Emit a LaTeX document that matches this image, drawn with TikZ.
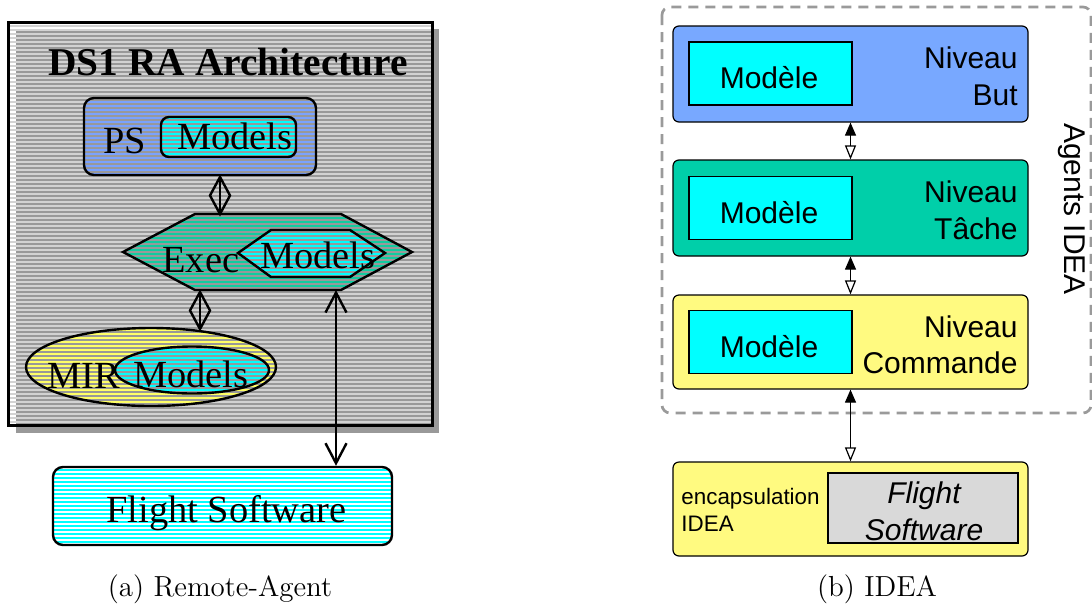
\documentclass[tikz,border=0pt]{standalone}
\usepackage{fontspec}
\newfontfamily\timesf{Liberation Serif}
\newfontfamily\helvf{Liberation Sans}
\usetikzlibrary{arrows.meta,patterns.meta,shapes.geometric}
\definecolor{bggray}{HTML}{999999}
\definecolor{lgray}{HTML}{D2D2D2}
\definecolor{sblue}{HTML}{7AA2FF}
\definecolor{steal}{HTML}{10CCA0}
\definecolor{scyan}{HTML}{00FFFF}
\definecolor{syellow}{HTML}{FFFF66}
\definecolor{butblue}{HTML}{78A8FF}
\definecolor{tacheteal}{HTML}{00CFA9}
\definecolor{cmdyellow}{HTML}{FFFA80}
\definecolor{fsgray}{HTML}{D9D9D9}
\definecolor{dashgray}{HTML}{9A9A9A}
\begin{document}
\begin{tikzpicture}[x=0.5pt,y=-0.5pt,
  striped/.style 2 args={preaction={fill=#1},pattern={Lines[distance=2pt,line width=0.7pt]},pattern color=#2},
  shapeline/.style={draw=black,line width=1.2pt},
  ltxt/.style={font=\timesf\fontsize{19.2}{22}\selectfont,inner sep=0,anchor=base west},
  ttxt/.style={font=\timesf\bfseries\fontsize{19.7}{23}\selectfont,inner sep=0,anchor=base west},
  rtxt/.style={font=\helvf\fontsize{15}{18}\selectfont,inner sep=0},
  stxt/.style={font=\helvf\fontsize{11.2}{13}\selectfont,inner sep=0,anchor=base west},
  captxt/.style={font=\fontsize{14.5}{17}\selectfont,inner sep=0,anchor=base},
  conn/.style={line width=1.2pt},
  diam/.style={diamond,draw,line width=1.2pt,minimum width=10.5pt,minimum height=19pt,inner sep=0},
  biarrow/.style={line width=1.2pt,{Straight Barb[length=10pt,width=10.5pt]}-{Straight Barb[length=10pt,width=10.5pt]}},
  level/.style={draw,line width=0.6pt,rounded corners=3pt,minimum width=177.5pt,minimum height=48pt,inner sep=0,fill=#1},
  modele/.style={draw,line width=0.6pt,fill=scyan,minimum width=81.5pt,minimum height=31.5pt,inner sep=0},
  rarr/.style={line width=0.6pt,{Triangle[length=6.5pt,width=5.5pt]}-{Triangle[open,fill=white,length=7pt,width=5.5pt]}}]
\useasboundingbox (0,0) rectangle (1092,606);
% ---------- (a) Remote-Agent ----------
\fill[bggray] (16,29) rectangle (439,433);
\draw[line width=1.5pt,pattern={Lines[distance=2pt,line width=0.6pt]},pattern color=lgray] (8,22) rectangle (432,425);
\node[ttxt] (title) at (48,75) {DS1 RA Architecture};
% PS
\node[shapeline,rounded corners=5pt,minimum width=116pt,minimum height=38.5pt,striped={bggray}{sblue}] (ps) at (200,136.5) {};
\node[shapeline,rounded corners=4pt,minimum width=67.5pt,minimum height=20pt,striped={bggray}{scyan}] (psm) at (228.5,137) {};
\node[ltxt] (pst) at (103,153) {PS};
\node[ltxt] (psmt) at (177,149) {Models};
% Exec
\coordinate (e1) at (123,252); \coordinate (e2) at (195,214); \coordinate (e3) at (341,214);
\coordinate (e4) at (412,252); \coordinate (e5) at (341,290); \coordinate (e6) at (195,290);
\draw[shapeline,striped={bggray}{steal}] (e1) -- (e2) -- (e3) -- (e4) -- (e5) -- (e6) -- cycle;
\coordinate (m1) at (238,253); \coordinate (m2) at (271,230); \coordinate (m3) at (350,230);
\coordinate (m4) at (385,253); \coordinate (m5) at (350,277); \coordinate (m6) at (271,277);
\draw[shapeline,striped={bggray}{scyan}] (m1) -- (m2) -- (m3) -- (m4) -- (m5) -- (m6) -- cycle;
\node[ltxt] (exect) at (162,272) {Exec};
\node[ltxt] (exmt) at (260,268) {Models};
\coordinate (exin) at (220,214);
\coordinate (exout) at (200,290);
\coordinate (exfs) at (336,290);
% MIR
\node[ellipse,shapeline,minimum width=125pt,minimum height=39pt,inner sep=0,striped={bggray}{syellow}] (mir) at (151,367) {};
\node[ellipse,shapeline,minimum width=77pt,minimum height=23.5pt,inner sep=0,striped={bggray}{scyan}] (mirm) at (192,370) {};
\node[ltxt] (mirt) at (47,388) {MIR};
\node[ltxt] (mirmt) at (133,387) {Models};
% connectors
\draw[conn] (ps.south -| exin) -- (exin);
\node[diam] (d1) at (220,195.5) {};
\draw[conn] (exout) -- (exout |- mir.north);
\node[diam] (d2) at (200,310.5) {};
% Flight Software
\node[shapeline,rounded corners=5pt,minimum width=169.5pt,minimum height=39pt,striped={white}{scyan}] (fs) at (222.5,506) {};
\node[ltxt] (fst) at (106,522) {Flight Software};
\draw[biarrow] (exfs) -- (exfs |- fs.north);
\node[captxt] (capa) at (220,596) {(a) Remote-Agent};
% ---------- (b) IDEA ----------
\draw[dashgray,line width=1.35pt,dash pattern=on 5pt off 3.5pt,rounded corners=4pt] (662,7) rectangle (1091,413);
\node[level=butblue] (but) at (850.5,74) {};
\node[level=tacheteal] (tache) at (850.5,208) {};
\node[level=cmdyellow,minimum height=47pt] (cmd) at (850.5,342) {};
\node[level=cmdyellow,minimum height=47pt] (enc) at (850.5,509) {};
\node[modele] (mb) at (770.5,73.5) {};
\node[modele] (mt) at (770.5,208) {};
\node[modele] (mc) at (770.5,342) {};
\node[rtxt,anchor=base] (mbt) at (769,88) {Modèle};
\node[rtxt,anchor=base] (mtt) at (769,223) {Modèle};
\node[rtxt,anchor=base] (mct) at (769,357) {Modèle};
\node[rtxt,anchor=base east] (nb1) at (1018,68) {Niveau};
\node[rtxt,anchor=base east] (nb2) at (1018,105) {But};
\node[rtxt,anchor=base east] (nt1) at (1018,202) {Niveau};
\node[rtxt,anchor=base east] (nt2) at (1018,239) {Tâche};
\node[rtxt,anchor=base east] (nc1) at (1018,337) {Niveau};
\node[rtxt,anchor=base east] (nc2) at (1018,373) {Commande};
\node[draw,line width=0.6pt,fill=fsgray,minimum width=95pt,minimum height=35pt,inner sep=0] (fsw) at (923,508) {};
\node[rtxt,anchor=base,font=\helvf\itshape\fontsize{15}{18}\selectfont] (fsw1) at (924,503) {Flight};
\node[rtxt,anchor=base,font=\helvf\itshape\fontsize{15}{18}\selectfont] (fsw2) at (924,540) {Software};
\node[stxt] (enc1) at (681,504) {encapsulation};
\node[stxt] (enc2) at (681,531) {IDEA};
\node[rtxt,rotate=-90] (agents) at (1072,209) {Agents IDEA};
\draw[rarr] (but.south) -- (tache.north);
\draw[rarr] (tache.south) -- (cmd.north);
\draw[rarr] (cmd.south) -- (enc.north);
\node[captxt] (capb) at (877,596) {(b) IDEA};
\end{tikzpicture}
\end{document}
